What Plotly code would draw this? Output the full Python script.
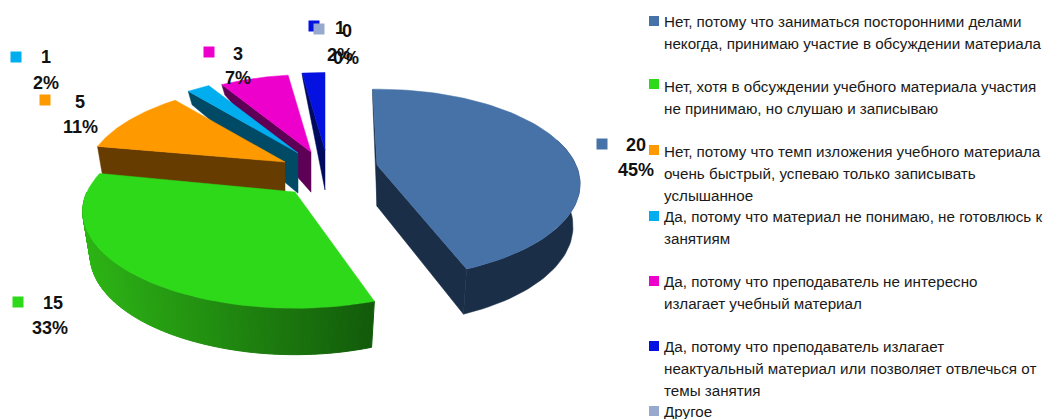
import numpy as np
import plotly.graph_objects as go

categories = [
    ["Нет, потому что заниматься посторонними делами", "некогда, принимаю участие в обсуждении материала"],
    ["Нет, хотя в обсуждении учебного материала участия", "не принимаю, но слушаю и записываю"],
    ["Нет, потому что темп изложения учебного материала", "очень быстрый, успеваю только записывать", "услышанное"],
    ["Да, потому что материал не понимаю, не готовлюсь к", "занятиям"],
    ["Да, потому что преподаватель не интересно", "излагает учебный материал"],
    ["Да, потому что преподаватель излагает", "неактуальный материал или позволяет отвлечься от", "темы занятия"],
    ["Другое"],
]
values = [20, 15, 5, 1, 3, 1, 0]
percent_labels = ["45%", "33%", "11%", "2%", "7%", "2%", "0%"]
colors = ["#4672A8", "#2DD918", "#FF9900", "#00AEEF", "#EE00CC", "#0511E0", "#98A9D0"]
wall_colors = ["#1A2E48", "#2DB515", "#663C00", "#004A66", "#5F0057", "#000A5F", "#3A4560"]

# style / layout geometry
P = 0.2
apex = [(377, 165), (295, 192), (285, 162), (298, 153), (311, 152), (325, 150), (325, 150)]
radii = [(199, 91), (208, 93), (197, 93), (197, 93), (197, 93), (197, 93), (197, 93)]
rot = [-1.5, 2, 0, 0, 0, 0, 0]
label_pos = [(636, 145), (53, 303), (80, 102), (46, 57), (238, 54), (340, 28), (347, 31)]
pct_pos = [(636, 170), (50, 328), (80, 127), (46, 83), (238, 78), (340, 55), (346, 58)]
swatch_pos = [(602, 144), (18, 302), (45, 100), (16, 57), (209, 52), (314, 26), (319, 29)]
legend_swatch_y = [21, 84, 150, 216, 281, 346, 411]
legend_line_y = [[21, 43], [86, 108], [151, 173, 195], [216, 238], [281, 303], [346, 368, 390], [411]]


def depth(y):
    return np.interp(y, [75, 90, 150, 190, 300, 320], [6, 13, 40, 43, 46, 47])


def rim(i, deg):
    t = np.radians(np.asarray(deg, dtype=float) + rot[i])
    u, v = np.sin(t), np.cos(t)
    s = 1 / (1 + P * v)
    ax, ay = apex[i]
    rx, ry = radii[i]
    return ax + rx * u * s, ay - ry * v * s


def lower(i, x, y):
    return x + (apex[i][0] - x) * 0.035, y + depth(y)


fig = go.Figure()


def poly(xs, ys, color, w=0.5):
    fig.add_trace(go.Scatter(x=xs, y=ys, mode="lines", fill="toself", fillcolor=color,
                             line=dict(color=color, width=w), hoverinfo="skip", showlegend=False))


def mix(a, b, f):
    ca = [int(a[k:k + 2], 16) for k in (1, 3, 5)]
    cb = [int(b[k:k + 2], 16) for k in (1, 3, 5)]
    return "rgb(%d,%d,%d)" % tuple(round(p + (q - p) * f) for p, q in zip(ca, cb))


total = sum(values)
edges = np.concatenate([[0], np.cumsum(values) / total * 360])

for i in [5, 4, 3, 2, 1, 0]:
    a0, a1 = edges[i], edges[i + 1]
    ax, ay = apex[i]
    th = np.linspace(a0, a1, 80)
    rx_pts, ry_pts = rim(i, th)
    if i >= 2:
        x0, y0 = rx_pts[0], ry_pts[0]
        bx0, by0 = lower(i, x0, y0)
        bax, bay = lower(i, ax, ay)
        poly([ax, x0, bx0, bax, ax], [ay, y0, by0, bay, ay], wall_colors[i])
    elif i == 1:
        th2 = np.linspace(a1 - 12, a0, 130)
        xs, ys = rim(i, th2)
        bxs, bys = lower(i, xs, ys)
        for k in range(len(th2) - 1):
            f = (xs[k] - xs.min()) / (xs.max() - xs.min())
            poly([xs[k], xs[k + 1], bxs[k + 1], bxs[k], xs[k]],
                 [ys[k], ys[k + 1], bys[k + 1], bys[k], ys[k]],
                 mix("#2DB515", "#125A0A", f), 1)
    else:
        bax, bay = lower(i, ax, ay)
        x0, y0 = rx_pts[0], ry_pts[0]
        bx0, by0 = lower(i, x0, y0)
        poly([ax, x0, bx0, bax, ax], [ay, y0, by0, bay, ay], wall_colors[i])
        xe, ye = rx_pts[-1], ry_pts[-1]
        bxe, bye = lower(i, xe, ye)
        poly([ax, xe, bxe, bax, ax], [ay, ye, bye, bay, ay], wall_colors[i])
        th2 = np.linspace(75, a1, 50)
        xs, ys = rim(i, th2)
        bxs, bys = lower(i, xs, ys)
        poly(list(xs) + list(bxs[::-1]) + [xs[0]], list(ys) + list(bys[::-1]) + [ys[0]], wall_colors[i])
    poly([ax] + list(rx_pts) + [ax], [ay] + list(ry_pts) + [ay], colors[i])

fig.add_trace(go.Scatter(x=[p[0] for p in swatch_pos], y=[p[1] for p in swatch_pos], mode="markers",
                         marker=dict(symbol="square", size=11, color=colors), hoverinfo="skip", showlegend=False))
fig.add_trace(go.Scatter(x=[654] * len(colors), y=legend_swatch_y, mode="markers",
                         marker=dict(symbol="square", size=10, color=colors), hoverinfo="skip", showlegend=False))

FONT = "Liberation Sans, Arial, sans-serif"
annotations = []
for (x, y), (px, py), v, p in zip(label_pos, pct_pos, values, percent_labels):
    for tx, ty, t in ((x, y, str(v)), (px, py, p)):
        annotations.append(dict(x=tx, y=ty, xref="x", yref="y", text=f"<b>{t}</b>", showarrow=False,
                                xanchor="center", yanchor="middle",
                                font=dict(family=FONT, size=18, color="#111111")))
for lines, ys in zip(categories, legend_line_y):
    for line, y in zip(lines, ys):
        annotations.append(dict(x=662, y=y, xref="x", yref="y", text=line, showarrow=False, xanchor="left",
                                yanchor="middle", font=dict(family=FONT, size=15.2, color="#1a1a1a")))

fig.update_layout(
    width=1047, height=419, margin=dict(l=0, r=0, t=0, b=0),
    paper_bgcolor="white", plot_bgcolor="white", showlegend=False,
    xaxis=dict(range=[0, 1047], visible=False, fixedrange=True),
    yaxis=dict(range=[419, 0], visible=False, fixedrange=True),
    annotations=annotations,
)
fig.write_html("out.html", config=dict(displayModeBar=False),
               post_script="document.body.style.margin='0';document.documentElement.style.overflow='hidden';")
